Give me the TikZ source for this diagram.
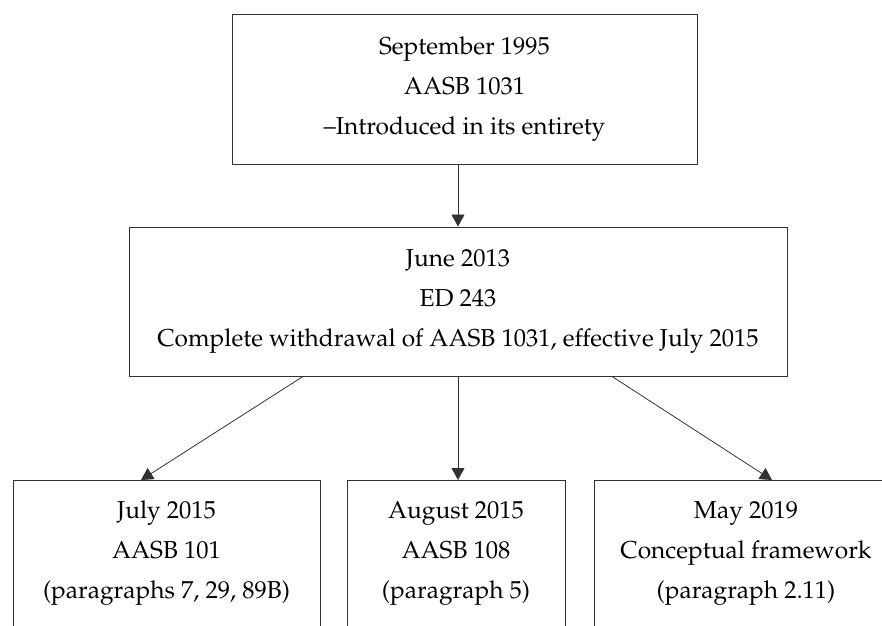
\documentclass[tikz,border=0pt]{standalone}
\usepackage[T1]{fontenc}
\usepackage{mathpazo}
\usepackage{tikz}
\usetikzlibrary{positioning, arrows.meta}
\tikzset{
    box_style/.style={
        rectangle,            % 矩形方框
        draw=black!80,        % 边框颜色
        line width=0.9pt,     % 边框粗细
        fill=white,           % 填充颜色
        align=center,         % 多行文字居中
        inner sep=0pt,        % 尺寸由 minimum 决定
        font=\fontsize{24.5}{40}\selectfont  % 节点文字字体
    },
    arrow_style/.style={
        -{Triangle[width=13pt,length=12pt]},  % 实心三角箭头
        draw=black!80,        % 线条颜色
        line width=0.8pt      % 线条粗细
    }
}

\begin{document}
\begin{tikzpicture}[x=1pt, y=1pt]
            \useasboundingbox (0,0) rectangle (882,625);
            % 1. 定义节点位置 (三层)
            \node[box_style, minimum width=465pt, minimum height=150pt] (intro) at (464.5,536)
                {September 1995\\AASB 1031\\--Introduced in its entirety};
            \node[box_style, minimum width=658pt, minimum height=149pt] (withdraw) at (458,323.5)
                {June 2013\\ED 243\\Complete withdrawal of AASB 1031, effective July 2015};
            \node[box_style, anchor=north, minimum width=307pt, minimum height=146pt] (aasbone) at (166.5,145)
                {July 2015\\AASB 101\\(paragraphs 7, 29, 89B)};
            \node[box_style, anchor=north, minimum width=218pt, minimum height=146pt] (aasbeight) at (456,145)
                {August 2015\\AASB 108\\(paragraph 5)};
            \node[box_style, anchor=north, minimum width=304pt, minimum height=146pt] (framework) at (746,145)
                {May 2019\\Conceptual framework\\(paragraph 2.11)};

            % 2. 绘制带箭头的连线
            \draw[arrow_style] (intro.south -| withdraw.north) -- (withdraw.north);         % 1995 -> 2013
            \draw[arrow_style] ([xshift=-155pt]withdraw.south) -- ([xshift=-25.5pt]aasbone.north);  % 左
            \draw[arrow_style] (withdraw.south) -- (withdraw.south |- aasbeight.north);     % 中
            \draw[arrow_style] ([xshift=154pt]withdraw.south) -- ([xshift=26pt]framework.north);    % 右
        \end{tikzpicture}
\end{document}
